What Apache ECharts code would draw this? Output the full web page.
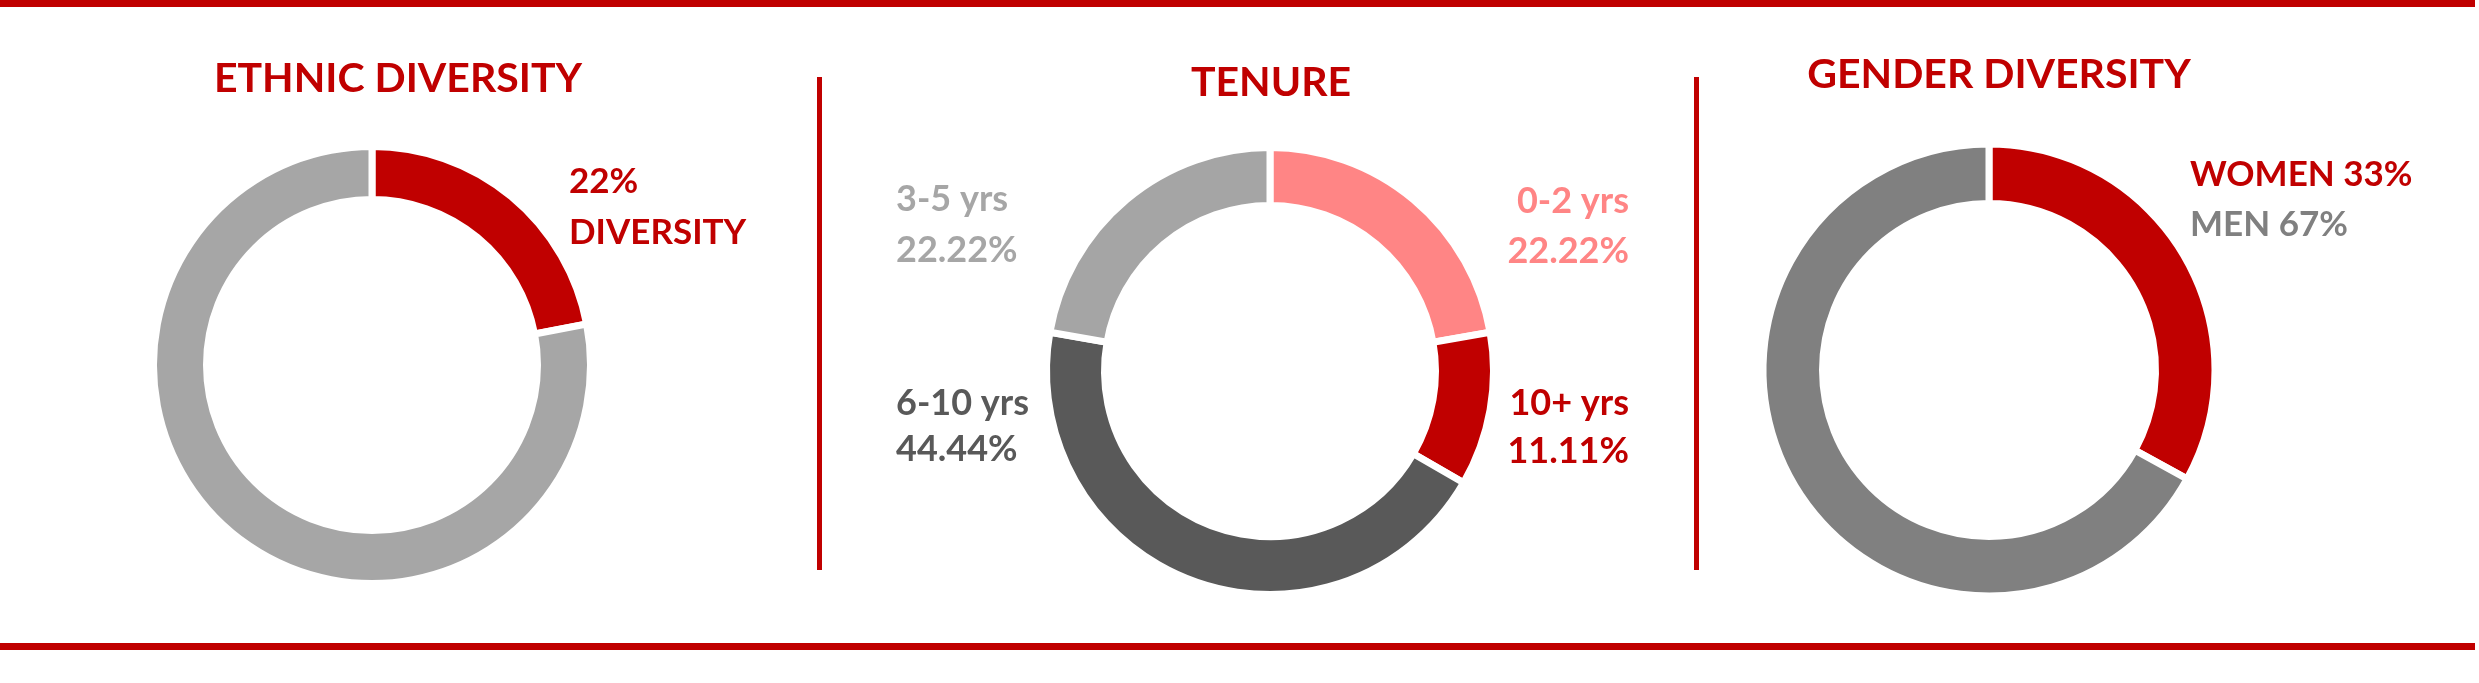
<!DOCTYPE html>
<html>
<head>
<meta charset="utf-8">
<script src="https://cdn.jsdelivr.net/npm/echarts@6/dist/echarts.min.js"></script>
<style>
  html, body { margin: 0; padding: 0; background: #ffffff; }
  #chart { width: 2479px; height: 683px; }
</style>
</head>
<body>
<div id="chart"></div>
<script>
// ---- data ----
const titles = ['ETHNIC DIVERSITY', 'TENURE', 'GENDER DIVERSITY'];

const ethnicCats = ['DIVERSITY', 'OTHER'];
const ethnicValues = [22, 78];

const tenureCats = ['0-2 yrs', '10+ yrs', '6-10 yrs', '3-5 yrs'];
const tenureValues = [22.22, 11.11, 44.44, 22.22];

const genderCats = ['WOMEN', 'MEN'];
const genderValues = [33, 67];

// ---- styling ----
const RED = '#C00000';
const ethnicColors = [RED, '#A6A6A6'];
const tenureColors = ['#FF8585', RED, '#595959', '#A5A5A5'];
const genderColors = [RED, '#808080'];
const FONT = 'Lato, "Open Sans", sans-serif';
const TITLE_FONT = 'bold 41px ' + FONT;
const ETH_FONT = 'bold 35px ' + FONT;
const TEN_FONT = 'bold 36px ' + FONT;
const GEN_FONT = 'bold 35px ' + FONT;

function toData(cats, vals, colors) {
  return cats.map((c, i) => ({ name: c, value: vals[i], itemStyle: { color: colors[i] } }));
}

function pieSeries(name, data, center, radius) {
  return {
    type: 'pie',
    name: name,
    center: center,
    radius: radius,
    startAngle: 90,
    clockwise: true,
    silent: true,
    animation: false,
    label: { show: false },
    labelLine: { show: false },
    emphasis: { disabled: true },
    itemStyle: { borderColor: '#ffffff', borderWidth: 7, borderJoin: 'miter' },
    data: data
  };
}

function txt(text, x, y, color, font, align) {
  return {
    type: 'text', x: x, y: y, silent: true,
    style: { text: text, fill: color, font: font, align: align || 'left', verticalAlign: 'middle' }
  };
}

function rect(x, y, w, h, color) {
  return { type: 'rect', silent: true, shape: { x: x, y: y, width: w, height: h }, style: { fill: color } };
}

const tv = tenureValues.map(v => v.toFixed(2) + '%');

const graphics = [
  rect(0, 0, 2475, 7, RED),
  rect(0, 643, 2475, 7, RED),
  rect(817, 77, 5, 493, RED),
  rect(1694, 77, 5, 493, RED),
  // titles
  txt(titles[0], 398, 79, RED, TITLE_FONT, 'center'),
  txt(titles[1], 1271, 83, RED, TITLE_FONT, 'center'),
  txt(titles[2], 1999, 75, RED, TITLE_FONT, 'center'),
  // ethnic label
  txt(ethnicValues[0] + '%', 569, 182, RED, ETH_FONT, 'left'),
  txt(ethnicCats[0], 569, 233, RED, ETH_FONT, 'left'),
  // tenure labels
  txt(tenureCats[0], 1629, 201, tenureColors[0], TEN_FONT, 'right'),
  txt(tv[0], 1629, 251, tenureColors[0], TEN_FONT, 'right'),
  txt(tenureCats[1], 1629, 403, tenureColors[1], TEN_FONT, 'right'),
  txt(tv[1], 1629, 451, tenureColors[1], TEN_FONT, 'right'),
  txt(tenureCats[3], 896, 199, '#A6A6A6', TEN_FONT, 'left'),
  txt(tv[3], 896, 250, '#A6A6A6', TEN_FONT, 'left'),
  txt(tenureCats[2], 896, 403, tenureColors[2], TEN_FONT, 'left'),
  txt(tv[2], 896, 449, tenureColors[2], TEN_FONT, 'left'),
  // gender labels
  txt(genderCats[0] + ' ' + genderValues[0] + '%', 2190, 175, RED, GEN_FONT, 'left'),
  txt(genderCats[1] + ' ' + genderValues[1] + '%', 2190, 225, genderColors[1], GEN_FONT, 'left')
];

const chart = echarts.init(document.getElementById('chart'), null, { renderer: 'canvas' });
chart.setOption({
  backgroundColor: '#ffffff',
  animation: false,
  series: [
    pieSeries('Ethnic', toData(ethnicCats, ethnicValues, ethnicColors), [372, 365], [165.5, 218.5]),
    pieSeries('Tenure', toData(tenureCats, tenureValues, tenureColors), [1270, 371], [165.5, 223.5]),
    pieSeries('Gender', toData(genderCats, genderValues, genderColors), [1989, 370], [166.5, 226])
  ],
  graphic: graphics
});
</script>
</body>
</html>
